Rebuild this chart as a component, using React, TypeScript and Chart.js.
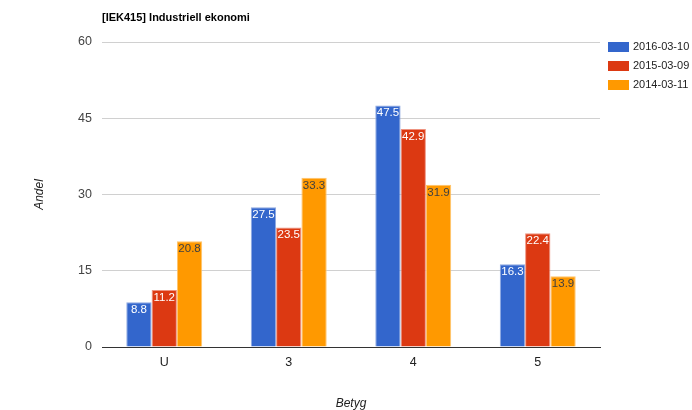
import React, { useEffect, useRef } from "react";
import { Chart, registerables } from "chart.js";

Chart.register(...registerables);

const categories = ["U", "3", "4", "5"];
const seriesLabels = ["2016-03-10", "2015-03-09", "2014-03-11"];
const values2016 = [8.8, 27.5, 47.5, 16.3];
const values2015 = [11.2, 23.5, 42.9, 22.4];
const values2014 = [20.8, 33.3, 31.9, 13.9];
const yTicks = [0, 15, 30, 45, 60];
const titleText = "[IEK415] Industriell ekonomi";
const yTitle = "Andel";
const xTitle = "Betyg";

const colors = ["#3366CC", "#DC3912", "#FF9900"];
const borderColors = ["#8FA9E0", "#EE9380", "#FFC46B"];
const labelColors = ["#FFFFFF", "#FFFFFF", "#404040"];
const FONT = "'Liberation Sans', Arial, sans-serif";

const overlayPlugin = {
  id: "overlay",
  afterDatasetsDraw(chart: any) {
    const ctx = chart.ctx;
    ctx.save();
    ctx.font = `11.5px ${FONT}`;
    ctx.textAlign = "center";
    ctx.textBaseline = "top";
    chart.data.datasets.forEach((ds: any, di: number) => {
      const meta = chart.getDatasetMeta(di);
      meta.data.forEach((bar: any, i: number) => {
        ctx.fillStyle = labelColors[di];
        ctx.fillText(String(ds.data[i]), bar.x, bar.y + 2);
      });
    });
    ctx.restore();
  },
  afterDraw(chart: any) {
    const ctx = chart.ctx;
    const area = chart.chartArea;
    ctx.save();
    // title
    ctx.font = `bold 11px ${FONT}`;
    ctx.fillStyle = "#000";
    ctx.textAlign = "left";
    ctx.textBaseline = "alphabetic";
    ctx.fillText(titleText, area.left, 21);
    // legend
    ctx.font = `11px ${FONT}`;
    ctx.textBaseline = "middle";
    seriesLabels.forEach((lab, i) => {
      const cy = 47 + i * 19;
      ctx.fillStyle = colors[i];
      ctx.fillRect(608, cy - 5, 21, 10);
      ctx.fillStyle = "#222";
      ctx.fillText(lab, 633, cy);
    });
    // axis titles
    ctx.font = `italic 12px ${FONT}`;
    ctx.fillStyle = "#222";
    ctx.textAlign = "center";
    ctx.fillText(xTitle, (area.left + area.right) / 2, 404);
    ctx.translate(40, (area.top + area.bottom) / 2);
    ctx.rotate(-Math.PI / 2);
    ctx.fillText(yTitle, 0, 0);
    ctx.restore();
  },
};

export default function App() {
  const ref = useRef<HTMLCanvasElement>(null);
  useEffect(() => {
    if (!ref.current) return;
    const seriesData = [values2016, values2015, values2014];
    const chart = new Chart(ref.current, {
      type: "bar",
      data: {
        labels: categories,
        datasets: seriesLabels.map((lab, i) => ({
          label: lab,
          data: seriesData[i],
          backgroundColor: colors[i],
          borderColor: borderColors[i],
          borderWidth: 1,
          barPercentage: 1,
          categoryPercentage: 0.61,
        })),
      },
      options: {
        responsive: false,
        animation: false,
        layout: { padding: { left: 0, top: 42, right: 92, bottom: 0 } },
        plugins: {
          legend: { display: false },
          title: { display: false },
          tooltip: { enabled: false },
        },
        scales: {
          x: {
            grid: { display: false, drawTicks: false },
            border: { color: "#333", width: 1 },
            ticks: { color: "#222", font: { family: FONT, size: 12.5 }, padding: 8 },
            afterFit: (s: any) => { s.height = 63; },
          },
          y: {
            min: 0,
            max: 60,
            afterBuildTicks: (s: any) => { s.ticks = yTicks.map((v) => ({ value: v })); },
            grid: {
              color: (c: any) => (c.tick && c.tick.value === 0 ? "#333" : "#D0D0D0"),
              drawTicks: false,
            },
            border: { display: false },
            ticks: { color: "#444", font: { family: FONT, size: 12.5 }, padding: 10 },
            afterFit: (s: any) => { s.width = 102; },
          },
        },
      },
      plugins: [overlayPlugin],
    });
    return () => chart.destroy();
  }, []);
  return (
    <div style={{ position: "absolute", left: 0, top: 0, width: 692, height: 410, background: "#fff" }}>
      <canvas ref={ref} width={692} height={410} />
    </div>
  );
}
